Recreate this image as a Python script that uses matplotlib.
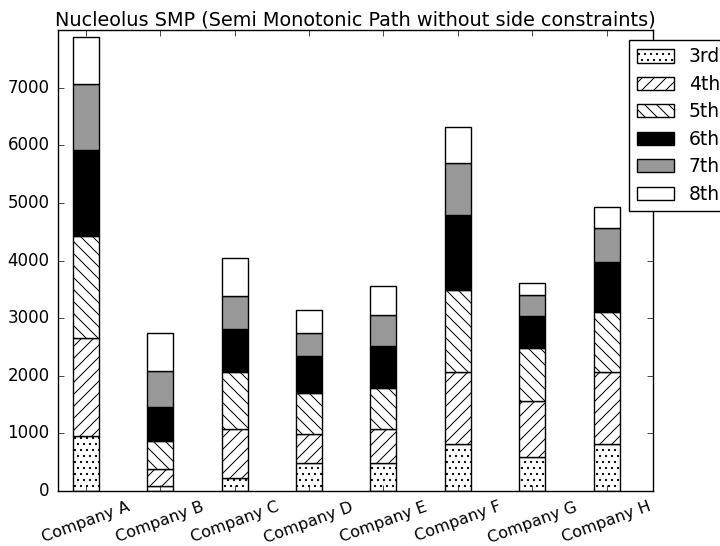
import matplotlib
matplotlib.use("Agg")
import matplotlib.pyplot as plt
import numpy as np

plt.style.use('classic')

companies = ["Company A", "Company B", "Company C", "Company D",
             "Company E", "Company F", "Company G", "Company H"]
labels = ["3rd", "4th", "5th", "6th", "7th", "8th"]
v3 = [960, 90, 220, 480, 480, 815, 585, 815]
v4 = [1700, 290, 850, 510, 590, 1245, 975, 1245]
v5 = [1765, 480, 990, 705, 710, 1430, 915, 1050]
v6 = [1490, 605, 750, 650, 735, 1295, 560, 865]
v7 = [1140, 625, 570, 405, 540, 910, 360, 590]
v8 = [825, 650, 665, 395, 510, 620, 210, 370]
series = [v3, v4, v5, v6, v7, v8]

colors = ["white", "white", "white", "black", "0.6", "white"]
hatches = ["..", "//", "\\\\", None, None, None]

S = 100 / 72.0
plt.rcParams.update({
    'font.size': 12 * S,
    'axes.linewidth': 1.0 * S,
    'xtick.major.size': 4 * S, 'ytick.major.size': 4 * S,
    'xtick.major.width': 0.5 * S, 'ytick.major.width': 0.5 * S,
    'xtick.major.pad': 6 * S, 'ytick.major.pad': 6 * S,
    'hatch.linewidth': 1.0,
})

fig = plt.figure(figsize=(10, 546 / 72.0), dpi=72)
ax = fig.add_axes([58/720, 1-491/546, (653-58)/720, (491-30)/546])

ind = np.arange(len(companies)) + 0.2
width = 0.35
bottom = np.zeros(len(companies))
handles = []
for vals, c, h, lab in zip(series, colors, hatches, labels):
    b = ax.bar(ind, vals, width, bottom=bottom, color=c, hatch=h,
               edgecolor='black', label=lab, align='edge', linewidth=1.0 * S)
    handles.append(b)
    bottom += np.array(vals)

ax.set_xlim(0, 8)
ax.set_ylim(0, 8000)
ax.set_yticks(range(0, 8000, 1000))
ax.set_xticks(ind + width/2)
ax.set_xticklabels(companies, rotation=20, ha='center', fontsize=11.5 * S)
ax.set_title("Nucleolus SMP (Semi Monotonic Path without side constraints)",
             fontsize=13.9 * S)
leg = fig.legend(handles, labels, loc='upper left',
                 bbox_to_anchor=(629/720, 1-40/546), borderaxespad=0,
                 fontsize=13.5 * S, fancybox=False, labelspacing=0.45)
leg.get_frame().set_linewidth(1.0 * S)

fig.savefig("out.png", dpi=72, facecolor='white')
